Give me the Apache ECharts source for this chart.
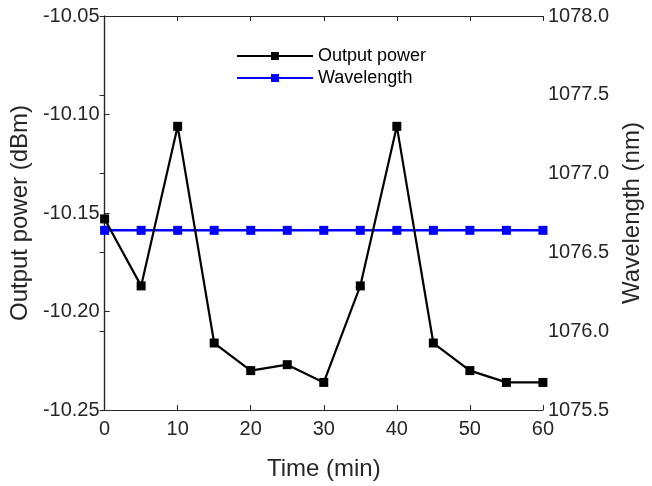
<!DOCTYPE html>
<html>
<head>
<meta charset="utf-8">
<script src="https://cdn.jsdelivr.net/npm/echarts@6/dist/echarts.min.js"></script>
<style>
  html, body { margin: 0; padding: 0; background: #fff; }
  #chart { width: 652px; height: 486px; }
</style>
</head>
<body>
<div id="chart"></div>
<script>
// Sampling times (min)
const times = [0, 5, 10, 15, 20, 25, 30, 35, 40, 45, 50, 55, 60];
// Output power readings (dBm)
const outputPower = [-10.153, -10.187, -10.106, -10.216, -10.230, -10.227, -10.236,
                     -10.187, -10.106, -10.216, -10.230, -10.236, -10.236];
// Centre wavelength readings (nm)
const wavelength = [1076.64, 1076.64, 1076.64, 1076.64, 1076.64, 1076.64, 1076.64,
                    1076.64, 1076.64, 1076.64, 1076.64, 1076.64, 1076.64];

const xTicks = [0, 60, 10];          // min, max, interval
const powerTicks = [-10.25, -10.05, 0.05];
const waveTicks = [1075.5, 1078.0, 0.5];

const FONT = 'Liberation Sans, Arial, sans-serif';
const INK = '#262626';

const chart = echarts.init(document.getElementById('chart'), null, { renderer: 'canvas' });

const axisLine = { show: true, lineStyle: { color: INK, width: 1.2 } };
const tickIn = { show: true, inside: true, length: 5, lineStyle: { color: INK, width: 1 } };

chart.setOption({
  animation: false,
  backgroundColor: '#fff',
  grid: { left: 104, right: 101, top: 16, bottom: 62, containLabel: false },
  legend: {
    left: 231, top: 42, orient: 'vertical',
    itemWidth: 76, itemHeight: 10, itemGap: 4,
    textStyle: { fontFamily: FONT, fontSize: 18, color: '#000' },
    data: ['Output power', 'Wavelength']
  },
  xAxis: [{
    type: 'value', min: xTicks[0], max: xTicks[1], interval: xTicks[2],
    position: 'bottom',
    name: 'Time (min)', nameLocation: 'middle', nameGap: 47,
    nameTextStyle: { fontFamily: FONT, fontSize: 24, color: INK },
    axisLine: axisLine, axisTick: tickIn,
    axisLabel: { fontFamily: FONT, fontSize: 20, color: INK, margin: 9 },
    splitLine: { show: false }
  }, {
    type: 'value', min: xTicks[0], max: xTicks[1], interval: xTicks[2],
    position: 'top',
    axisLine: axisLine, axisTick: tickIn,
    axisLabel: { show: false }, splitLine: { show: false }
  }],
  yAxis: [{
    type: 'value', min: powerTicks[0], max: powerTicks[1], interval: powerTicks[2],
    position: 'left',
    name: 'Output power (dBm)', nameLocation: 'middle', nameGap: 68,
    nameTextStyle: { fontFamily: FONT, fontSize: 24, color: INK },
    axisLine: axisLine, axisTick: tickIn,
    axisLabel: { fontFamily: FONT, fontSize: 20, color: INK, margin: 5,
                 formatter: v => v.toFixed(2) },
    splitLine: { show: false }
  }, {
    type: 'value', min: waveTicks[0], max: waveTicks[1], interval: waveTicks[2],
    position: 'right',
    name: 'Wavelength (nm)', nameLocation: 'middle', nameGap: 76,
    nameRotate: 90,
    nameTextStyle: { fontFamily: FONT, fontSize: 24, color: INK },
    axisLine: axisLine, axisTick: tickIn,
    axisLabel: { fontFamily: FONT, fontSize: 20, color: INK, margin: 5,
                 formatter: v => v.toFixed(1) },
    splitLine: { show: false }
  }],
  series: [{
    name: 'Wavelength', type: 'line', yAxisIndex: 1,
    data: times.map((t, i) => [t, wavelength[i]]),
    symbol: 'rect', symbolSize: 9,
    lineStyle: { color: '#0000ff', width: 2.5 },
    itemStyle: { color: '#0000ff' },
    z: 2
  }, {
    name: 'Output power', type: 'line', yAxisIndex: 0,
    data: times.map((t, i) => [t, outputPower[i]]),
    symbol: 'rect', symbolSize: 9,
    lineStyle: { color: '#000', width: 2.2 },
    itemStyle: { color: '#000' },
    z: 3
  }]
});
</script>
</body>
</html>
